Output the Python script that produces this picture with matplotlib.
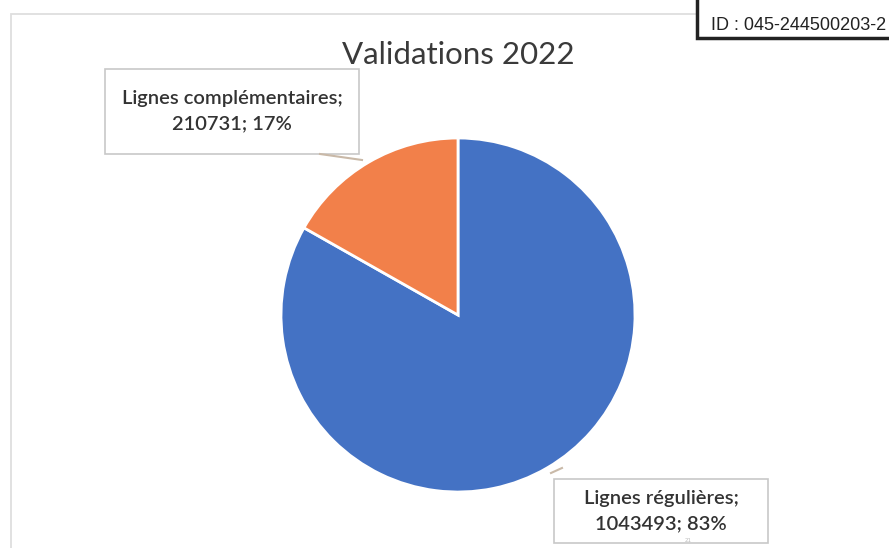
import matplotlib
matplotlib.use("Agg")
import matplotlib.pyplot as plt
from matplotlib.patches import Rectangle

# données
categories = ["Lignes régulières", "Lignes complémentaires"]
valeurs = [1043493, 210731]
pourcentages = [83, 17]
couleurs = ["#4472C4", "#F2804A"]
titre = "Validations 2022"
id_texte = "ID : 045-244500203-2"

W, H = 889, 548
fig = plt.figure(figsize=(W / 100, H / 100), dpi=100)
ax = fig.add_axes([0, 0, 1, 1])
ax.set_xlim(0, W)
ax.set_ylim(0, H)
ax.set_aspect("equal")
ax.axis("off")

# cadre du graphique (gris clair)
ax.add_patch(Rectangle((11, -20), 900, H - 14 + 20, fill=False,
                       edgecolor="#dedede", linewidth=1.3))

# camembert
cx, cy, r = 458, H - 315, 177
wedges, _ = ax.pie(valeurs, colors=couleurs, startangle=90, counterclock=False,
                   center=(cx, cy), radius=r, frame=True,
                   wedgeprops=dict(edgecolor="white", linewidth=2))
ax.set_xlim(0, W)
ax.set_ylim(0, H)
ax.axis("off")

ax.text(458, H - 55, titre, ha="center", va="center", fontsize=22.5,
        family="Lato", color="#3a3a3a")

# étiquettes de données
boite = dict(facecolor="white", edgecolor="#c8c8c8", linewidth=1.2)
positions = [(661, H - 511), (232, H - 111)]
tailles = [(214, 64), (254, 85)]
ancres = [((551, H - 473), (562, H - 468)), ((320, H - 154), (362, H - 160))]
for cat, val, pct, (px, py), (bw, bh), (a0, a1) in zip(categories, valeurs, pourcentages,
                                                      positions, tailles, ancres):
    ax.add_patch(Rectangle((px - bw / 2, py - bh / 2), bw, bh, **boite))
    ax.text(px, py, f"{cat};\n{val}; {pct}%", ha="center", va="center",
            fontsize=14.5, family="Lato", fontweight="semibold", color="#333333",
            linespacing=1.6)
    ax.plot([a0[0], a1[0]], [a0[1], a1[1]], color="#c9b9a8", linewidth=1.5)

# tampon ID
ax.add_patch(Rectangle((697, H - 38), 250, 60, fill=True, facecolor="white",
                       edgecolor="#222222", linewidth=2.5))
ax.text(711, H - 25, id_texte, ha="left", va="center", fontsize=13,
        family="Liberation Sans", color="#222222")

ax.text(688, H - 541, "21", ha="center", va="center", fontsize=4, color="#bbbbbb")

fig.savefig("out.png", dpi=100)
